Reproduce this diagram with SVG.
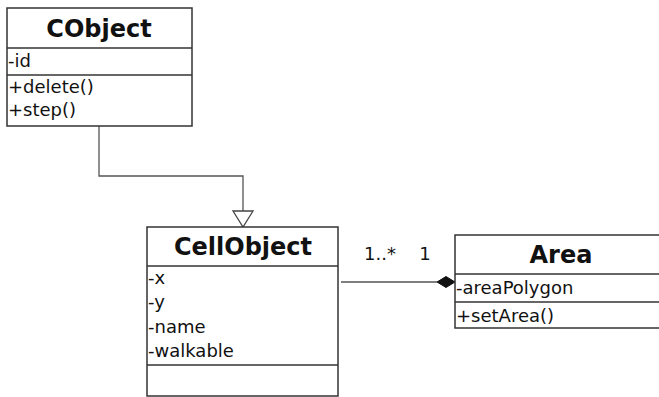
<svg xmlns="http://www.w3.org/2000/svg" width="659" height="397" viewBox="0 0 659 397">
<style>
.box{fill:#fff;stroke:#333;stroke-width:1.5}
.sep{stroke:#333;stroke-width:1.5}
.title{font-family:"DejaVu Sans",sans-serif;font-weight:bold;font-size:24px;fill:#111;text-anchor:middle}
.t{font-family:"DejaVu Sans",sans-serif;font-size:18px;fill:#111}
.conn{fill:none;stroke:#555;stroke-width:1.3}
</style>
<rect width="659" height="397" fill="#fff"/>
<g id="connectors">
<path class="conn" d="M99,126 V176 H243 V211"/>
<polygon points="233,211 253,211 243,227" fill="#fff" stroke="#444" stroke-width="1.3"/>
<path class="conn" d="M341,282 H437"/>
<polygon points="437,282 446,276.5 455,282 446,287.5" fill="#111" stroke="#111" stroke-width="1"/>
<text class="t" x="364" y="260">1..*</text>
<text class="t" x="425" y="260" text-anchor="middle">1</text>
</g>
<g id="CObject">
<rect class="box" x="7" y="8" width="185" height="118"/>
<line class="sep" x1="7" y1="48" x2="192" y2="48"/>
<line class="sep" x1="7" y1="75" x2="192" y2="75"/>
<text class="title" x="99" y="37">CObject</text>
<text class="t" x="8" y="67">-id</text>
<text class="t" x="8" y="93">+delete()</text>
<text class="t" x="8" y="116">+step()</text>
</g>
<g id="CellObject">
<rect class="box" x="147" y="227" width="191" height="169"/>
<line class="sep" x1="147" y1="266" x2="338" y2="266"/>
<line class="sep" x1="147" y1="365" x2="338" y2="365"/>
<text class="title" x="243" y="255">CellObject</text>
<text class="t" x="148" y="284">-x</text>
<text class="t" x="148" y="308">-y</text>
<text class="t" x="148" y="333">-name</text>
<text class="t" x="148" y="357">-walkable</text>
</g>
<g id="Area">
<rect class="box" x="455" y="235" width="220" height="93"/>
<line class="sep" x1="455" y1="274" x2="675" y2="274"/>
<line class="sep" x1="455" y1="302" x2="675" y2="302"/>
<text class="title" x="561" y="263">Area</text>
<text class="t" x="456" y="294">-areaPolygon</text>
<text class="t" x="456" y="322">+setArea()</text>
</g>
</svg>
